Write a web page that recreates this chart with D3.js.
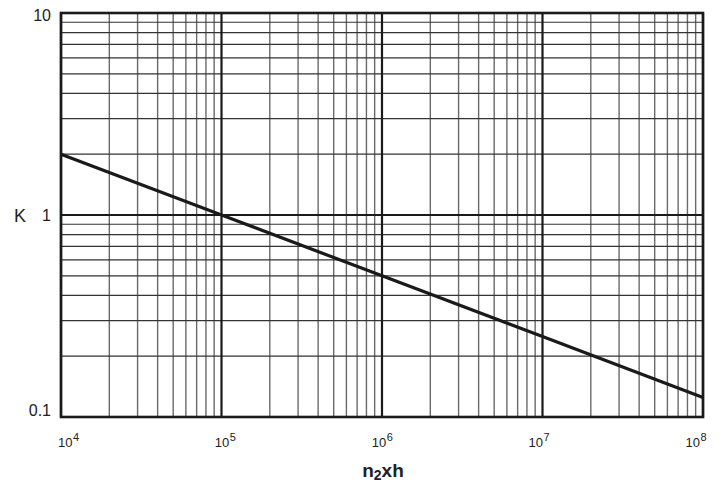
<!DOCTYPE html>
<html><head><meta charset="utf-8">
<script src="https://cdn.jsdelivr.net/npm/d3@7"></script>
<style>html,body{margin:0;padding:0;background:#fff}svg{display:block}</style>
</head><body>
<script>
const xDomain = [1e4, 1e8];
const yDomain = [0.1, 10];
const xTickExponents = [4, 5, 6, 7, 8];
const yTickLabels = ["0.1", "1", "10"];
const yTickValues = [0.1, 1, 10];
const lineX = [1e4, 1e5, 1e6, 1e7, 1e8];
const lineK = [2.0, 1.0, 0.5, 0.25, 0.125];

const W = 728, H = 487;
const m = {left: 61, right: 25, top: 13, bottom: 70};
const FONT = "Liberation Sans, Arial, sans-serif";
const svg = d3.select("body").append("svg").attr("width", W).attr("height", H);
const x = d3.scaleLog().domain(xDomain).range([m.left, W - m.right]);
const y = d3.scaleLog().domain(yDomain).range([H - m.bottom, m.top]);

// minor grids
const minorX = [], minorY = [];
for (let e = 4; e < 8; e++) for (let k = 2; k <= 9; k++) minorX.push(k * Math.pow(10, e));
for (let e = -1; e < 1; e++) for (let k = 2; k <= 9; k++) minorY.push(k * Math.pow(10, e));

const g = svg.append("g");
g.selectAll("line.mx").data(minorX).join("line")
  .attr("x1", d => x(d)).attr("x2", d => x(d))
  .attr("y1", y(yDomain[0])).attr("y2", y(yDomain[1]))
  .attr("stroke", "#6a6a6a").attr("stroke-width", 1.4);
g.selectAll("line.my").data(minorY).join("line")
  .attr("y1", d => y(d)).attr("y2", d => y(d))
  .attr("x1", x(xDomain[0])).attr("x2", x(xDomain[1]))
  .attr("stroke", "#333").attr("stroke-width", 1.2);
// major grids
g.selectAll("line.Mx").data(xTickExponents.map(e => Math.pow(10, e))).join("line")
  .attr("x1", d => x(d)).attr("x2", d => x(d))
  .attr("y1", y(yDomain[0])).attr("y2", y(yDomain[1]))
  .attr("stroke", "#1a1a1a").attr("stroke-width", 2.2);
g.selectAll("line.My").data(yTickValues).join("line")
  .attr("y1", d => y(d)).attr("y2", d => y(d))
  .attr("x1", x(xDomain[0])).attr("x2", x(xDomain[1]))
  .attr("stroke", "#1a1a1a").attr("stroke-width", 2.2);
// frame
svg.append("rect").attr("x", x(xDomain[0])).attr("y", y(yDomain[1]))
  .attr("width", x(xDomain[1]) - x(xDomain[0])).attr("height", y(yDomain[0]) - y(yDomain[1]))
  .attr("fill", "none").attr("stroke", "#1a1a1a").attr("stroke-width", 2.6);

// data line
svg.append("path").datum(lineX.map((v, i) => [v, lineK[i]]))
  .attr("d", d3.line().x(d => x(d[0])).y(d => y(d[1])))
  .attr("fill", "none").attr("stroke", "#1a1a1a").attr("stroke-width", 3.2);

// y tick labels (baseline shift per label as in the scanned original)
const yLabelShift = v => v >= 10 ? 8 : (v >= 1 ? 6 : -1);
svg.selectAll("text.yt").data(yTickValues).join("text")
  .attr("x", 51).attr("y", d => y(d) + yLabelShift(d))
  .attr("text-anchor", "end")
  .attr("font-family", FONT).attr("font-size", 16).attr("fill", "#222")
  .text((d, i) => yTickLabels[i]);
svg.append("text").attr("x", 14).attr("y", y(1) + 7)
  .attr("font-family", FONT).attr("font-size", 18).attr("fill", "#222").text("K");

// x tick labels (labels spaced slightly tighter than the gridlines, as in original)
const labelPos = d3.scaleLinear().domain([4, 8]).range([x(1e4) + 7.5, x(1e8) - 7]);
const xt = svg.selectAll("text.xt").data(xTickExponents).join("text")
  .attr("x", d => labelPos(d)).attr("y", 447)
  .attr("text-anchor", "middle")
  .attr("font-family", FONT).attr("font-size", 13).attr("fill", "#222");
xt.append("tspan").text("10");
xt.append("tspan").attr("dy", -6).attr("dx", 0.5).attr("font-size", 11).text(d => d);

// x axis title
const t = svg.append("text").attr("x", 383).attr("y", 477).attr("text-anchor", "middle")
  .attr("font-family", FONT)
  .attr("font-weight", "bold").attr("font-size", 19).attr("fill", "#222");
t.append("tspan").text("n");
t.append("tspan").attr("dy", 3).attr("font-size", 14).text("2");
t.append("tspan").attr("dy", -3).text("xh");
</script>
</body></html>
